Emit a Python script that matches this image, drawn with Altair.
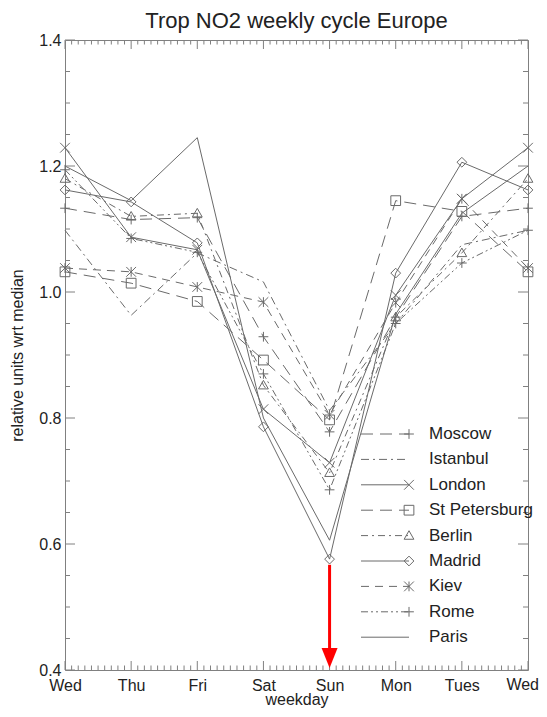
import json
import altair as alt
import pandas as pd

# ---------------- data ----------------
days = ["Wed", "Thu", "Fri", "Sat", "Sun", "Mon", "Tues", "Wed"]
cities = ["Moscow", "Istanbul", "London", "St Petersburg", "Berlin",
          "Madrid", "Kiev", "Rome", "Paris"]

moscow = [1.133, 1.115, 1.118, 0.929, 0.778, 0.960, 1.120, 1.133]
istanbul = [1.098, 0.963, 1.062, 1.016, 0.812, 0.950, 1.075, 1.098]
london = [1.229, 1.087, 1.067, 0.814, 0.729, 0.995, 1.148, 1.229]
st_petersburg = [1.032, 1.014, 0.985, 0.892, 0.797, 1.145, 1.128, 1.032]
berlin = [1.180, 1.120, 1.125, 0.852, 0.713, 0.960, 1.062, 1.180]
madrid = [1.162, 1.143, 1.078, 0.786, 0.576, 1.030, 1.206, 1.162]
kiev = [1.038, 1.032, 1.008, 0.984, 0.805, 0.983, 1.148, 1.038]
rome = [1.194, 1.085, 1.063, 0.870, 0.686, 0.950, 1.046, 1.098]
paris = [1.200, 1.145, 1.245, 0.800, 0.606, 0.965, 1.125, 1.200]

y_major = [0.4, 0.6, 0.8, 1.0, 1.2, 1.4]
arrow_day = 4
arrow_top, arrow_bottom, arrow_head = 0.567, 0.432, 0.419

series = {"Moscow": moscow, "Istanbul": istanbul, "London": london,
          "St Petersburg": st_petersburg, "Berlin": berlin, "Madrid": madrid,
          "Kiev": kiev, "Rome": rome, "Paris": paris}

df = pd.DataFrame([{"city": c, "d": i, "v": v}
                   for c in cities for i, v in enumerate(series[c])])

# ---------------- styles ----------------
GRAY = "#6a6a6a"
FRAME = "#808080"
FONT = "Liberation Sans"
W, H = 463, 630
LABPAD = 7

PLUS = "M-1,0L1,0M0,-1L0,1"
XSH = "M-1,-1L1,1M-1,1L1,-1"
AST = "M-1,-1L1,1M-1,1L1,-1M0,-1L0,1"
SQUARE = "M-1,-1L1,-1L1,1L-1,1Z"
TRI = "M0,-1L1,0.75L-1,0.75Z"
DIAM = "M0,-1L1,0L0,1L-1,0Z"

style = {
    "Moscow": ([12, 7], PLUS),
    "Istanbul": ([8, 4, 2, 4], None),
    "London": (None, XSH),
    "St Petersburg": ([12, 7], SQUARE),
    "Berlin": ([7, 4, 2, 4], TRI),
    "Madrid": (None, DIAM),
    "Kiev": ([8, 6], AST),
    "Rome": ([7, 3, 2, 3, 2, 3], PLUS),
    "Paris": (None, None),
}

label_expr = json.dumps(days) + "[datum.value]"

X = alt.X("d:Q", scale=alt.Scale(domain=[0, 7], nice=False, zero=False),
          axis=alt.Axis(values=list(range(7)), labelExpr=label_expr,
                        ticks=False, domain=False, grid=False,
                        labelFlush=False, labelOverlap=False,
                        labelFontSize=16, labelPadding=LABPAD,
                        labelColor="#222", labelFont=FONT, title="weekday",
                        titleFontSize=16, titleFontWeight="normal",
                        titleFont=FONT, titleColor="#222",
                        titleBaseline="middle", titleY=29))
Y = alt.Y("v:Q", scale=alt.Scale(domain=[0.4, 1.4], nice=False, zero=False),
          axis=alt.Axis(values=y_major, format=".1f", ticks=False,
                        domain=False, grid=False, labelFlush=False,
                        labelOverlap=False, labelFontSize=16,
                        labelPadding=4, labelColor="#222", labelFont=FONT,
                        title="relative units wrt median", titleFontSize=16,
                        titleFontWeight="normal", titleFont=FONT,
                        titleColor="#222", titleBaseline="middle",
                        titleX=-48))

layers = []

# inward tick marks
x_major_df = pd.DataFrame({"d": list(range(8))})
x_minor_df = pd.DataFrame({"d": [i / 10 for i in range(71) if i % 10]})
y_major_df = pd.DataFrame({"v": y_major})
y_minor_df = pd.DataFrame({"v": [0.4 + 0.05 * i for i in range(21) if i % 4]})

for tdf, ln in ((x_major_df, 9), (x_minor_df, 4.5)):
    layers.append(alt.Chart(tdf).mark_rule(color=FRAME, strokeWidth=1).encode(
        x=X, y=alt.value(H), y2=alt.value(H - ln)))
    layers.append(alt.Chart(tdf).mark_rule(color=FRAME, strokeWidth=1).encode(
        x=X, y=alt.value(0), y2=alt.value(ln)))
for tdf, ln in ((y_major_df, 10), (y_minor_df, 5)):
    layers.append(alt.Chart(tdf).mark_rule(color=FRAME, strokeWidth=1).encode(
        y=Y, x=alt.value(0), x2=alt.value(ln)))
    layers.append(alt.Chart(tdf).mark_rule(color=FRAME, strokeWidth=1).encode(
        y=Y, x=alt.value(W - ln), x2=alt.value(W)))

# last weekday label (kept inside the page edge)
last_lab = pd.DataFrame({"d": [7], "lab": [days[7]]})
layers.append(alt.Chart(last_lab).mark_text(
    align="right", baseline="top", fontSize=16, font=FONT, color="#222",
    dx=11).encode(x=X, y=alt.value(H + LABPAD), text="lab:N"))

# series lines & markers
for c in cities:
    dash, shape = style[c]
    sub = df[df.city == c]
    lk = dict(color=GRAY, strokeWidth=1)
    if dash:
        lk["strokeDash"] = dash
    layers.append(alt.Chart(sub).mark_line(**lk).encode(x=X, y=Y))
    if shape:
        layers.append(alt.Chart(sub).mark_point(
            shape=shape, filled=False, size=95, color=GRAY, strokeWidth=1,
            opacity=1).encode(x=X, y=Y))

# legend (inside plot, lower right)
for i, c in enumerate(cities):
    dash, shape = style[c]
    py = 394 + 25.4 * i
    one = pd.DataFrame({"city": [c]})
    lk = dict(color=GRAY, strokeWidth=1)
    if dash:
        lk["strokeDash"] = dash
    layers.append(alt.Chart(one).mark_rule(**lk).encode(
        x=alt.value(296), x2=alt.value(344), y=alt.value(py)))
    if shape:
        layers.append(alt.Chart(one).mark_point(
            shape=shape, filled=False, size=95, color=GRAY, strokeWidth=1,
            opacity=1).encode(x=alt.value(344), y=alt.value(py)))
    layers.append(alt.Chart(one).mark_text(
        align="left", baseline="middle", fontSize=17, font=FONT,
        color="#222").encode(x=alt.value(364), y=alt.value(py), text="city:N"))

# red arrow at Sunday
arr = pd.DataFrame({"d": [arrow_day], "v": [arrow_top], "v2": [arrow_bottom]})
layers.append(alt.Chart(arr).mark_rule(color="#ff0000", strokeWidth=3).encode(
    x=X, y=Y, y2=alt.Y2("v2:Q")))
head = pd.DataFrame({"d": [arrow_day], "v": [arrow_head]})
layers.append(alt.Chart(head).mark_point(
    shape="M-0.8,-1L0.8,-1L0,1Z", filled=True, size=400, color="#ff0000",
    opacity=1, strokeWidth=0).encode(x=X, y=Y))

chart = alt.layer(*layers).properties(
    width=W, height=H,
    padding={"left": 57, "top": 32, "right": 11, "bottom": 39},
    autosize=alt.AutoSizeParams(type="none"),
    title=alt.TitleParams("Trop NO2 weekly cycle Europe", fontSize=22,
                          fontWeight="normal", font=FONT, color="#222",
                          offset=3, dy=4),
).configure_view(stroke=FRAME, strokeWidth=1)

chart.save("out.html", embed_options={"renderer": "svg", "actions": False})
